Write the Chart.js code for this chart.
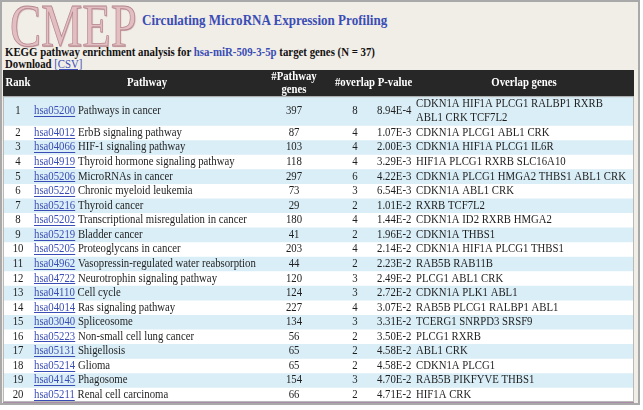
<!DOCTYPE html>
<html>
<head>
<meta charset="utf-8">
<script src="https://cdn.jsdelivr.net/npm/chart.js@4.4.1/dist/chart.umd.min.js"></script>
<style>
    html, body { margin: 0; padding: 0; background: #ffffff; }
    #page { position: relative; width: 643px; height: 410px; overflow: hidden; font-family: "Liberation Serif", "Times New Roman", serif; }
    #frame { position: absolute; left: 0; top: 0; width: 640px; height: 405px; box-sizing: border-box; border: 2px solid #a9a9a9; background: #f1ede7; }
    .line { position: absolute; white-space: nowrap; transform-origin: 0 0; }
    #logo { left: 10px; top: -6px; font-size: 62px; line-height: 62px; color: #e2bdc1; -webkit-text-stroke: 0.8px #b4868c; text-shadow: 1px 1px 1px #c9a3a7; transform: scaleX(0.75); }
    #title { left: 142px; top: 13px; font-size: 15px; line-height: 15px; font-weight: bold; color: #3a4db5; transform: scaleX(0.87); }
    #subtitle { left: 5px; top: 46px; font-size: 12.5px; line-height: 12.5px; font-weight: bold; color: #111111; transform: scaleX(0.865); }
    #download { left: 5px; top: 58px; font-size: 12.5px; line-height: 12.5px; font-weight: bold; color: #111111; transform: scaleX(0.86); }
    .blue { color: #3a4db5; }
    #download a { color: #3a4db5; font-weight: normal; text-decoration: underline; }
    #tableWrap { position: absolute; left: 3px; top: 70px; width: 631px; height: 332px; }
    #bottomRule { position: absolute; left: 3px; top: 402px; width: 631px; height: 1px; background: #a88ca8; }
</style>
</head>
<body>
<div id="page">
    <div id="frame"></div>
    <div class="line" id="logo">CMEP</div>
    <div class="line" id="title">Circulating MicroRNA Expression Profiling</div>
    <div class="line" id="subtitle">KEGG pathway enrichment analysis for <span class="blue">hsa-miR-509-3-5p</span> target genes (N = 37)</div>
    <div class="line" id="download">Download <a>[CSV]</a></div>
    <div id="tableWrap"><canvas id="tableChart" width="631" height="332"></canvas></div>
    <div id="bottomRule"></div>
</div>
<script>
// Table data (KEGG enrichment for hsa-miR-509-3-5p)
const headerLabels = ['Rank', 'Pathway', '#Pathway', 'genes', '#overlap', 'P-value', 'Overlap genes'];

const pathwayIds = [
    'hsa05200', 'hsa04012', 'hsa04066', 'hsa04919', 'hsa05206',
    'hsa05220', 'hsa05216', 'hsa05202', 'hsa05219', 'hsa05205',
    'hsa04962', 'hsa04722', 'hsa04110', 'hsa04014', 'hsa03040',
    'hsa05223', 'hsa05131', 'hsa05214', 'hsa04145', 'hsa05211',
];

const pathwayNames = [
    'Pathways in cancer', 'ErbB signaling pathway', 'HIF-1 signaling pathway',
    'Thyroid hormone signaling pathway', 'MicroRNAs in cancer', 'Chronic myeloid leukemia',
    'Thyroid cancer', 'Transcriptional misregulation in cancer', 'Bladder cancer',
    'Proteoglycans in cancer', 'Vasopressin-regulated water reabsorption',
    'Neurotrophin signaling pathway', 'Cell cycle', 'Ras signaling pathway', 'Spliceosome',
    'Non-small cell lung cancer', 'Shigellosis', 'Glioma', 'Phagosome', 'Renal cell carcinoma',
];

const pathwayGenes = [397, 87, 103, 118, 297, 73, 29, 180, 41, 203, 44, 120, 124, 227, 134, 56, 65, 65, 154, 66];

const overlapCounts = [8, 4, 4, 4, 6, 3, 2, 4, 2, 4, 2, 3, 3, 4, 3, 2, 2, 2, 3, 2];

const pValues = [
    '8.94E-4', '1.07E-3', '2.00E-3', '3.29E-3', '4.22E-3', '6.54E-3', '1.01E-2',
    '1.44E-2', '1.96E-2', '2.14E-2', '2.23E-2', '2.49E-2', '2.72E-2', '3.07E-2',
    '3.31E-2', '3.50E-2', '4.58E-2', '4.58E-2', '4.70E-2', '4.71E-2',
];

const overlapGenes = [
    'CDKN1A HIF1A PLCG1 RALBP1 RXRB ABL1 CRK TCF7L2',
    'CDKN1A PLCG1 ABL1 CRK',
    'CDKN1A HIF1A PLCG1 IL6R',
    'HIF1A PLCG1 RXRB SLC16A10',
    'CDKN1A PLCG1 HMGA2 THBS1 ABL1 CRK',
    'CDKN1A ABL1 CRK',
    'RXRB TCF7L2',
    'CDKN1A ID2 RXRB HMGA2',
    'CDKN1A THBS1',
    'CDKN1A HIF1A PLCG1 THBS1',
    'RAB5B RAB11B',
    'PLCG1 ABL1 CRK',
    'CDKN1A PLK1 ABL1',
    'RAB5B PLCG1 RALBP1 ABL1',
    'TCERG1 SNRPD3 SRSF9',
    'PLCG1 RXRB',
    'ABL1 CRK',
    'CDKN1A PLCG1',
    'RAB5B PIKFYVE THBS1',
    'HIF1A CRK',
];

// Layout
const FONT = '"Liberation Serif", "Times New Roman", serif';
const FONT_SIZE = 12.5;
const SX = 0.86;             // horizontal squeeze of the text
const HEADER_LINES = 1.8;
const GENE_COL_WIDTH = 213;
const TEXT_COLOR = '#1e1e1e';
const LINK_COLOR = '#3a4db5';

const measureCtx = document.createElement('canvas').getContext('2d');
measureCtx.font = FONT_SIZE + 'px ' + FONT;

function textWidth(str) {
    return measureCtx.measureText(str).width * SX;
}

// wrap a gene list into the width of its column
function wrapWords(text, maxWidth) {
    const lines = [];
    let current = '';
    text.split(' ').forEach(word => {
        const test = current ? current + ' ' + word : word;
        if (current && textWidth(test) > maxWidth) {
            lines.push(current);
            current = word;
        } else {
            current = test;
        }
    });
    if (current) lines.push(current);
    return lines;
}

const geneLines = overlapGenes.map(g => wrapWords(g, GENE_COL_WIDTH));
const rowLines = geneLines.map(lines => lines.length);
const totalLines = HEADER_LINES + rowLines.reduce((a, b) => a + b, 0);

function drawText(ctx, str, x, y, align, color, weight) {
    ctx.save();
    ctx.font = (weight || 'normal') + ' ' + FONT_SIZE + 'px ' + FONT;
    ctx.fillStyle = color;
    ctx.textAlign = align;
    ctx.textBaseline = 'middle';
    ctx.translate(x, y);
    ctx.scale(SX, 1);
    ctx.fillText(str, 0, 0);
    const w = ctx.measureText(str).width * SX;
    ctx.restore();
    return w;
}

const tableText = {
    id: 'tableText',
    afterDatasetsDraw(chart) {
        const ctx = chart.ctx;
        const yScale = chart.scales.y;
        const left = chart.chartArea.left;

        // header
        const hTop = yScale.getPixelForValue(0);
        const hBottom = yScale.getPixelForValue(HEADER_LINES);
        const hMid = (hTop + hBottom) / 2;
        drawText(ctx, headerLabels[0], left + 15, hMid, 'center', '#ffffff', 'bold');
        drawText(ctx, headerLabels[1], left + 144, hMid, 'center', '#ffffff', 'bold');
        drawText(ctx, headerLabels[2], left + 291, hMid - 6.5, 'center', '#ffffff', 'bold');
        drawText(ctx, headerLabels[3], left + 291, hMid + 6.5, 'center', '#ffffff', 'bold');
        drawText(ctx, headerLabels[4], left + 352, hMid, 'center', '#ffffff', 'bold');
        drawText(ctx, headerLabels[5], left + 392, hMid, 'center', '#ffffff', 'bold');
        drawText(ctx, headerLabels[6], left + 521, hMid, 'center', '#ffffff', 'bold');

        // rows
        let cum = HEADER_LINES;
        rowLines.forEach((n, i) => {
            const top = yScale.getPixelForValue(cum);
            const bottom = yScale.getPixelForValue(cum + n);
            const mid = (top + bottom) / 2;
            const lineH = (bottom - top) / n;

            drawText(ctx, String(i + 1), left + 15, mid, 'center', TEXT_COLOR);
            const linkX = left + 31;
            const lw = drawText(ctx, pathwayIds[i], linkX, mid, 'left', LINK_COLOR);
            ctx.fillStyle = LINK_COLOR;
            ctx.fillRect(linkX, Math.round(mid + 5), lw, 1);
            drawText(ctx, ' ' + pathwayNames[i], linkX + lw, mid, 'left', TEXT_COLOR);
            drawText(ctx, String(pathwayGenes[i]), left + 291, mid, 'center', TEXT_COLOR);
            drawText(ctx, String(overlapCounts[i]), left + 352, mid, 'center', TEXT_COLOR);
            drawText(ctx, pValues[i], left + 374, mid, 'left', TEXT_COLOR);
            geneLines[i].forEach((line, k) => {
                drawText(ctx, line, left + 413, top + lineH * (k + 0.5), 'left', TEXT_COLOR);
            });
            cum += n;
        });

        // outline
        ctx.save();
        ctx.strokeStyle = '#b9b9b9';
        ctx.lineWidth = 1;
        ctx.strokeRect(chart.chartArea.left + 0.5, hBottom + 0.5,
            chart.chartArea.right - chart.chartArea.left - 1, chart.chartArea.bottom - hBottom - 1);
        ctx.restore();
    },
};

const datasets = [{ label: 'header', data: [HEADER_LINES], backgroundColor: '#272727' }].concat(
    rowLines.map((n, i) => ({
        label: pathwayIds[i],
        data: [n],
        backgroundColor: i % 2 === 0 ? '#daeef7' : '#ffffff',
    }))
);

new Chart(document.getElementById('tableChart'), {
    type: 'bar',
    data: { labels: ['KEGG'], datasets: datasets },
    options: {
        responsive: false,
        animation: false,
        devicePixelRatio: 1,
        events: [],
        layout: { padding: 0 },
        datasets: { bar: { barPercentage: 1, categoryPercentage: 1, borderWidth: 0 } },
        plugins: { legend: { display: false }, tooltip: { enabled: false } },
        scales: {
            x: { display: false, stacked: true },
            y: { display: false, stacked: true, reverse: true, min: 0, max: totalLines },
        },
    },
    plugins: [tableText],
});
</script>
</body>
</html>
